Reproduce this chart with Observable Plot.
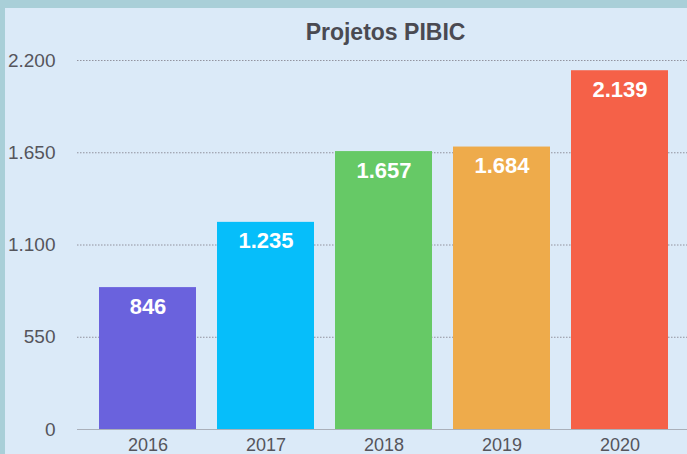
<!DOCTYPE html>
<html>
<head>
<meta charset="utf-8">
<script src="https://cdn.jsdelivr.net/npm/d3@7"></script>
<script src="https://cdn.jsdelivr.net/npm/@observablehq/plot@0.6"></script>
<style>
  html, body { margin: 0; padding: 0; }
  body { width: 687px; height: 454px; overflow: hidden; background: #a9cfd8; position: relative; font-family: 'Liberation Sans', Arial, sans-serif; }
  #inner { position: absolute; left: 5px; top: 8px; right: 0; bottom: 0; background: #dbeaf8; }
  #chart { position: absolute; left: 0; top: 0; }
  #chart svg { background: transparent; }
</style>
</head>
<body>
<div id="inner"></div>
<div id="chart"></div>
<script>
const title = "Projetos PIBIC";
const years = ["2016", "2017", "2018", "2019", "2020"];
const projects = [846, 1235, 1657, 1684, 2139];
const yTicks = [0, 550, 1100, 1650, 2200];

const data = years.map((y, i) => ({year: y, value: projects[i]}));
const fmt = d3.formatLocale({decimal: ",", thousands: ".", grouping: [3], currency: ["R$", ""]}).format(",d");
const font = "'Liberation Sans', Arial, Helvetica, sans-serif";
const textColor = "#55555c";

const chart = Plot.plot({
  width: 687,
  height: 454,
  marginTop: 60,
  marginBottom: 25,
  marginLeft: 77,
  marginRight: 0,
  style: {fontFamily: font, background: "transparent", overflow: "visible"},
  x: {domain: years, range: [77, 690], paddingInner: 0.18, paddingOuter: 0.18, label: null},
  y: {domain: [0, 2200], label: null},
  color: {domain: years, range: ["#6a62dd", "#06befa", "#66c966", "#eeab4b", "#f56148"]},
  marks: [
    Plot.gridY(yTicks.filter(d => d > 0), {stroke: "#8a8a95", strokeOpacity: 0.9, strokeDasharray: "1.5,1.5", strokeWidth: 1}),
    Plot.barY(data, {x: "year", y: "value", fill: "year"}),
    Plot.ruleY([0], {stroke: "#aab0ba", strokeWidth: 1.2}),
    Plot.axisY(yTicks, {tickSize: 0, tickPadding: 22, tickFormat: fmt, fontSize: 19, fontFamily: font, fill: textColor, label: null}),
    Plot.axisX({tickSize: 0, tickPadding: 9, fontSize: 18, fontFamily: font, fill: textColor, label: null}),
    Plot.text(data, {x: "year", y: "value", text: d => fmt(d.value), dy: 19, fill: "white", fontSize: 22, fontWeight: "bold", fontFamily: font}),
    Plot.text([title], {frameAnchor: "top", dy: -37, dx: 3, fontSize: 23, fontWeight: "bold", fontFamily: font, fill: "#4a4a52"})
  ]
});
document.getElementById("chart").appendChild(chart);
</script>
</body>
</html>
